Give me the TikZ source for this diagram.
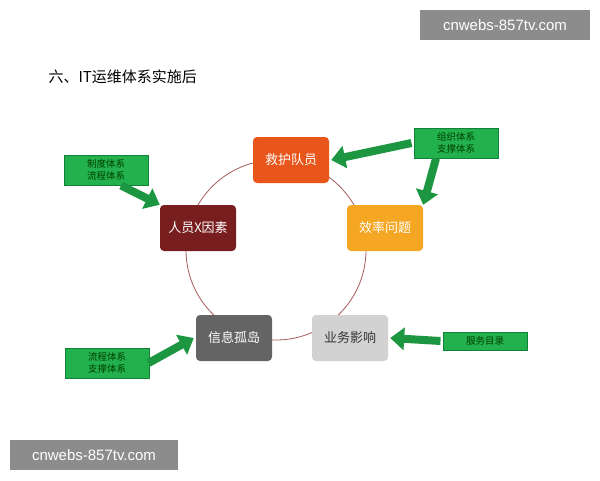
\documentclass[tikz,border=0pt]{standalone}
\usepackage{fontspec}
\setmainfont{Liberation Sans}
\newfontfamily\cjk{Noto Sans CJK SC}
\usetikzlibrary{arrows.meta}
\definecolor{gbox}{HTML}{22B14C}
\definecolor{gdark}{HTML}{13803A}
\begin{document}
\begin{tikzpicture}[x=1pt,y=-1pt,
  hub/.style={rounded corners=4pt,minimum width=76pt,minimum height=46pt,inner sep=0pt,font=\cjk\fontsize{13}{15}\selectfont,text=white},
  tag/.style={draw=gdark,line width=1pt,fill=gbox,minimum width=84pt,minimum height=30pt,inner sep=1pt,align=center,font=\cjk\fontsize{9.5}{11.5}\selectfont,text=black!75!green},
  blk/.style={line width=8pt,-{Triangle[width=22pt,length=14pt]},color=gbox!85!black},
  wm/.style={fill=black!45,text=white,font=\fontsize{15}{17}\selectfont,inner sep=0pt}]
\useasboundingbox (0,0) rectangle (600,480);
\node[wm,minimum width=170pt,minimum height=30pt] (w1) at (505,25) {cnwebs-857tv.com};
\node[wm,minimum width=168pt,minimum height=30pt] (w2) at (94,455) {cnwebs-857tv.com};
\node[anchor=west,font=\cjk\fontsize{15}{17}\selectfont] (title) at (45,77) {六、IT运维体系实施后};
\node[draw=red!30!gray,line width=0.8pt,circle,minimum size=180pt] (c) at (276,250) {};
\node[hub,fill={rgb,255:red,232;green,86;blue,27}] (a) at (291,160) {救护队员};
\node[hub,fill={rgb,255:red,245;green,166;blue,35}] (b) at (385,228) {效率问题};
\node[hub,fill={rgb,255:red,210;green,210;blue,210},text=black!80] (d) at (350,338) {业务影响};
\node[hub,fill={rgb,255:red,100;green,100;blue,100}] (e) at (234,338) {信息孤岛};
\node[hub,fill={rgb,255:red,120;green,30;blue,30}] (f) at (198,228) {人员X因素};
\node[tag] (t1) at (456,143) {组织体系\\支撑体系};
\node[tag] (t2) at (106,170) {制度体系\\流程体系};
\node[tag] (t3) at (107,363) {流程体系\\支撑体系};
\node[tag,minimum height=18pt] (t4) at (485,341) {服务目录};
\draw[blk] ([xshift=-2pt]t1.west) -- ([xshift=2pt]a.east);
\draw[blk] ([xshift=-20pt]t1.south) -- (b.north east);
\draw[blk] ([xshift=15pt]t2.south) -- (f.north west);
\draw[blk] ([xshift=-1pt]t3.east) -- ([xshift=-2pt]e.west);
\draw[blk] ([xshift=-2pt]t4.west) -- ([xshift=2pt]d.east);
\end{tikzpicture}
\end{document}
